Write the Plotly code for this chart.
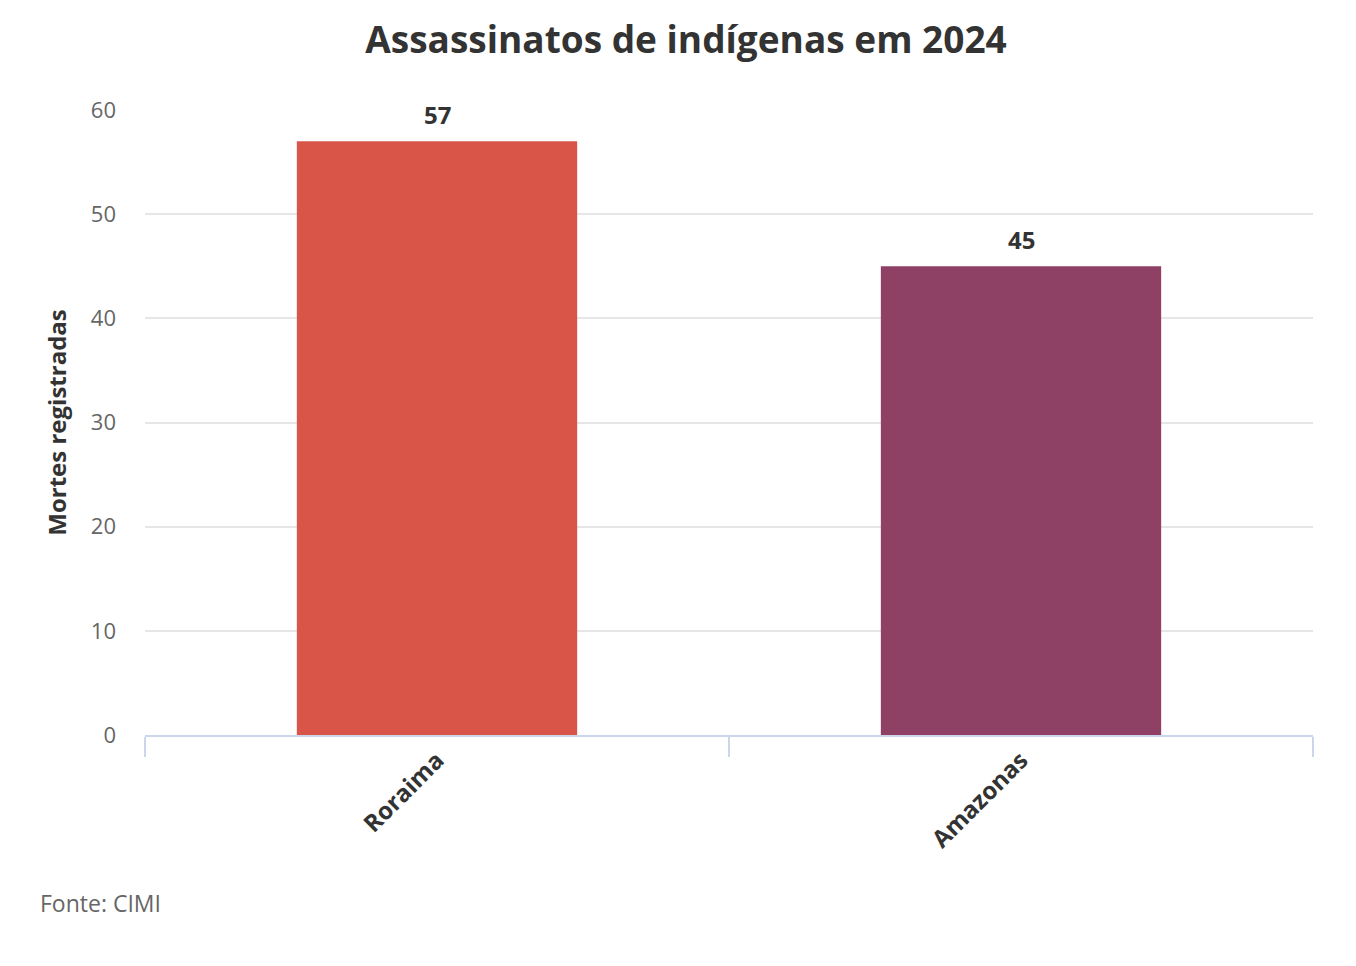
import plotly.graph_objects as go

estados = ["Roraima", "Amazonas"]
mortes = [57, 45]
cores = ["#d95548", "#8f4065"]
y_ticks = [0, 10, 20, 30, 40, 50, 60]

INK, MUTED, GRID, AXIS = "#333333", "#666666", "#e6e6e6", "#ccd6eb"
FONT = "Open Sans, sans-serif"

# page has an 8px body margin, so pixel positions are shifted by 8
W, H = 1356, 966
L, R, T, B = 137, 51, 102, 239
PW, PH = W - L - R, H - T - B


def px(x):
    return (x - 8 - L) / PW


def py(y):
    return 1 - (y - 8 - T) / PH


fig = go.Figure()
fig.add_trace(go.Bar(x=estados, y=mortes, marker=dict(color=cores, line_width=0),
                     hovertemplate="%{x}: %{y}<extra></extra>"))

# value labels above bars
for e, v in zip(estados, mortes):
    fig.add_annotation(x=e, y=v, text=f"<b>{v}</b>", showarrow=False, yanchor="bottom",
                       yshift=8, font=dict(family=FONT, size=24, color=INK))

fig.add_annotation(x=px(38), y=py(903), xref="paper", yref="paper", text="Fonte: CIMI",
                   showarrow=False, xanchor="left", yanchor="middle",
                   font=dict(family=FONT, size=23, color=MUTED))

fig.update_layout(
    width=W, height=H, paper_bgcolor="white", plot_bgcolor="white",
    font=dict(family=FONT, color=INK),
    title=dict(text="<b>Assassinatos de indígenas em 2024</b>", x=0.5, xanchor="center",
               y=1 - 32 / H, yanchor="middle", font=dict(family=FONT, size=37, color=INK)),
    bargap=0.52, showlegend=False,
    margin=dict(l=L, r=R, t=T, b=B))

fig.update_yaxes(range=[0, 60], tickvals=y_ticks, showgrid=True, gridcolor=GRID, gridwidth=1.5,
                 zeroline=False, showline=False, ticks="", ticklabelstandoff=28,
                 tickfont=dict(family=FONT, size=22, color=MUTED),
                 title=dict(text="<b>Mortes registradas</b>", standoff=17,
                            font=dict(family=FONT, size=24, color=INK)))
fig.update_xaxes(showline=True, linecolor=AXIS, linewidth=1.5, ticks="outside",
                 tickson="boundaries", ticklen=20, tickcolor=AXIS, tickwidth=1.5,
                 tickangle=-45, tickfont=dict(family=FONT, size=24, color=INK),
                 tickprefix="<b>", ticksuffix="</b>")

fig.write_html("out.html")
